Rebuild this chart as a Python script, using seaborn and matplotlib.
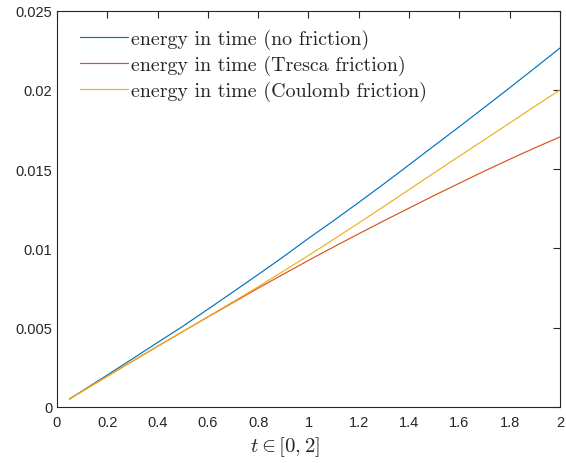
import numpy as np
import pandas as pd
import matplotlib
matplotlib.use("Agg")
import matplotlib.pyplot as plt
import seaborn as sns
from matplotlib.ticker import FuncFormatter

t = [0.05, 0.1, 0.2, 0.3, 0.4, 0.5, 0.6, 0.7, 0.8, 0.9, 1.0,
     1.1, 1.2, 1.3, 1.4, 1.5, 1.6, 1.7, 1.8, 1.9, 2.0]
no_friction = [0.00050, 0.00100, 0.00201, 0.00303, 0.00406, 0.00508, 0.00616,
               0.00725, 0.00835, 0.00947, 0.01063, 0.01175, 0.01290, 0.01407,
               0.01527, 0.01648, 0.01768, 0.01890, 0.02013, 0.02138, 0.02264]
tresca = [0.00050, 0.00098, 0.00193, 0.00288, 0.00382, 0.00475, 0.00567,
          0.00658, 0.00749, 0.00837, 0.00924, 0.01009, 0.01092, 0.01174,
          0.01254, 0.01334, 0.01411, 0.01488, 0.01562, 0.01634, 0.01703]
coulomb = [0.00050, 0.00098, 0.00193, 0.00288, 0.00382, 0.00475, 0.00569,
           0.00663, 0.00758, 0.00856, 0.00955, 0.01057, 0.01160, 0.01265,
           0.01371, 0.01477, 0.01582, 0.01686, 0.01791, 0.01896, 0.02000]
labels = ["energy in time (no friction)",
          "energy in time (Tresca friction)",
          "energy in time (Coulomb friction)"]
colors = ["#0072BD", "#D95319", "#EDB120"]
xticks = [0, 0.2, 0.4, 0.6, 0.8, 1, 1.2, 1.4, 1.6, 1.8, 2]
yticks = [0, 0.005, 0.01, 0.015, 0.02, 0.025]

df = pd.concat([
    pd.DataFrame({"t": t, "E": vals, "series": lab})
    for vals, lab in zip([no_friction, tresca, coulomb], labels)
])

sns.set_style("white")
plt.rcParams['font.family'] = ['Liberation Sans', 'DejaVu Sans']
plt.rcParams['mathtext.fontset'] = 'cm'

fig = plt.figure(figsize=(5.66, 4.64), dpi=100)
ax = fig.add_axes([0.1007, 0.121, 0.8887, 0.854])
sns.lineplot(data=df, x="t", y="E", hue="series", hue_order=labels,
             palette=colors, linewidth=0.85, ax=ax)

ax.set_xlim(0, 2)
ax.set_ylim(0, 0.025)
ax.set_xticks(xticks)
ax.set_yticks(yticks)
fmt = FuncFormatter(lambda v, p: f"{v:g}")
ax.xaxis.set_major_formatter(fmt)
ax.yaxis.set_major_formatter(fmt)
ax.tick_params(direction="in", length=5, width=0.8, colors="#262626",
               labelsize=10.5, top=True, right=True, labelcolor="#262626")
ax.tick_params(axis="x", pad=6)
for s in ax.spines.values():
    s.set_color("#262626")
    s.set_linewidth(0.8)
ax.set_ylabel("")
ax.set_xlabel(r"$t \in [0, 2]$", fontsize=15)
ax.xaxis.set_label_coords(0.453, -0.099, transform=ax.transAxes)
ax.xaxis.label.set_va("center")

leg = ax.legend(loc="upper left", frameon=False, handlelength=2.4,
                handletextpad=0.15, labelspacing=0.3,
                bbox_to_anchor=(0.01, 1.0),
                prop={"family": "cmr10", "size": 14.4})

fig.savefig("out.png", dpi=100)
